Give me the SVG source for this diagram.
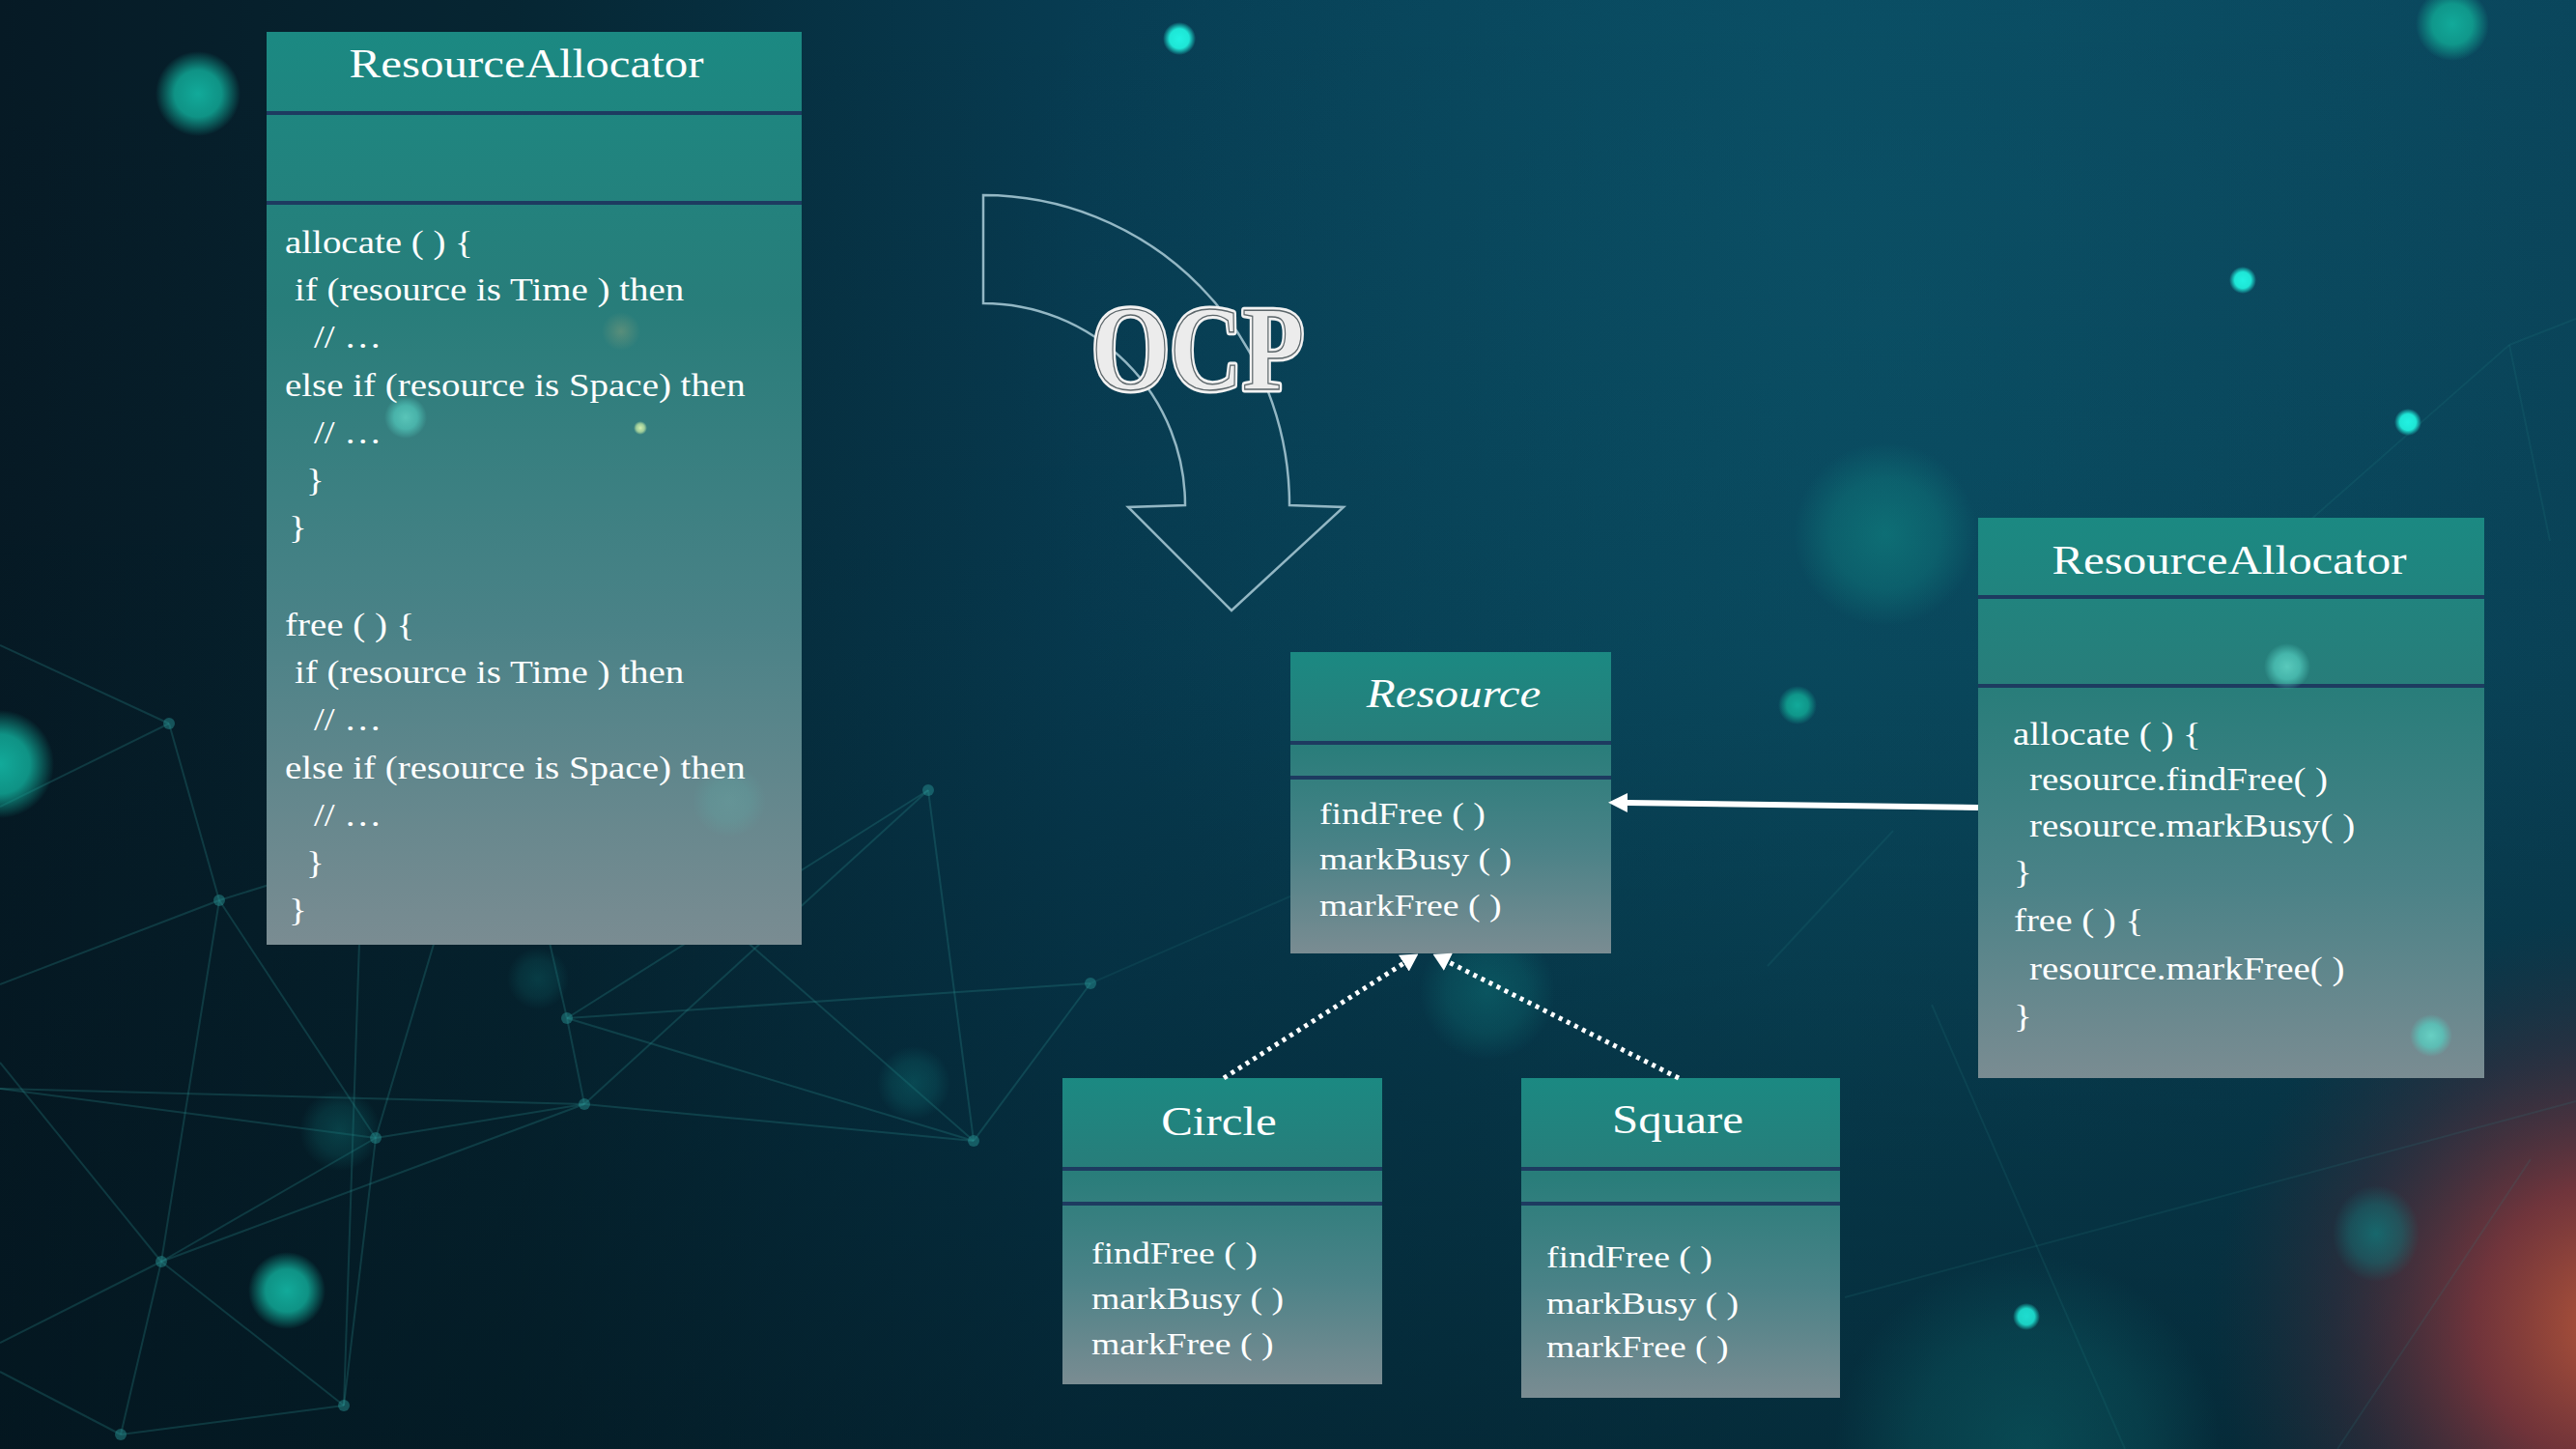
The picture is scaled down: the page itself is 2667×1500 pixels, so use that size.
<svg xmlns="http://www.w3.org/2000/svg" width="2667" height="1500" viewBox="0 0 2667 1500">
<defs>
<style>
.box{fill:url(#boxg);}
.div{stroke:#1d3b60;stroke-width:4;}
.t{font-family:"Liberation Serif","Times New Roman",serif;fill:#ffffff;}
.title{font-size:41.5px;text-anchor:middle;}
.code{font-size:33px;}
.meth{font-size:32px;}
.net{stroke:#2c8c8c;stroke-opacity:0.28;stroke-width:2;fill:none;}
.net2{stroke:#2c8c8c;stroke-opacity:0.14;stroke-width:2;fill:none;}
.node{fill:#2a9a98;fill-opacity:0.45;}
</style>
<linearGradient id="bg" x1="0" y1="0" x2="1" y2="0">
<stop offset="0" stop-color="#061a25"/>
<stop offset="0.2" stop-color="#062633"/>
<stop offset="0.42" stop-color="#073c52"/>
<stop offset="0.7" stop-color="#094a60"/>
<stop offset="1" stop-color="#0a455b"/>
</linearGradient>
<linearGradient id="shade" x1="0" y1="0" x2="0" y2="1">
<stop offset="0" stop-color="#02141c" stop-opacity="0"/>
<stop offset="0.45" stop-color="#02141c" stop-opacity="0.1"/>
<stop offset="1" stop-color="#02141c" stop-opacity="0.55"/>
</linearGradient>
<linearGradient id="boxg" x1="0" y1="0" x2="0" y2="1">
<stop offset="0" stop-color="#1b8982"/>
<stop offset="0.3" stop-color="#287d7a"/>
<stop offset="0.65" stop-color="#4a8287"/>
<stop offset="1" stop-color="#7a8c92"/>
</linearGradient>
<radialGradient id="gBright">
<stop offset="0" stop-color="#22f2e2"/>
<stop offset="0.6" stop-color="#1ee6d6"/>
<stop offset="1" stop-color="#1ee6d6" stop-opacity="0"/>
</radialGradient>
<radialGradient id="gTeal">
<stop offset="0" stop-color="#12aa9a"/>
<stop offset="0.55" stop-color="#10a090" stop-opacity="0.9"/>
<stop offset="1" stop-color="#10a090" stop-opacity="0"/>
</radialGradient>
<radialGradient id="gFaint">
<stop offset="0" stop-color="#0f7a7c" stop-opacity="0.75"/>
<stop offset="0.6" stop-color="#0f7a7c" stop-opacity="0.45"/>
<stop offset="1" stop-color="#0f7a7c" stop-opacity="0"/>
</radialGradient>
<radialGradient id="gLight">
<stop offset="0" stop-color="#66dccc"/>
<stop offset="0.55" stop-color="#55d0c2" stop-opacity="0.85"/>
<stop offset="1" stop-color="#55d0c2" stop-opacity="0"/>
</radialGradient>
<radialGradient id="gOrange">
<stop offset="0" stop-color="#8aa07a" stop-opacity="0.8"/>
<stop offset="1" stop-color="#8aa07a" stop-opacity="0"/>
</radialGradient>
<radialGradient id="gYellow">
<stop offset="0" stop-color="#d6f0b0"/>
<stop offset="0.6" stop-color="#b8e0a0" stop-opacity="0.8"/>
<stop offset="1" stop-color="#b8e0a0" stop-opacity="0"/>
</radialGradient>
<radialGradient id="gRed" cx="2710" cy="1370" r="420" gradientUnits="userSpaceOnUse">
<stop offset="0" stop-color="#c05a38" stop-opacity="0.95"/>
<stop offset="0.35" stop-color="#93363a" stop-opacity="0.75"/>
<stop offset="0.7" stop-color="#5a2a38" stop-opacity="0.35"/>
<stop offset="1" stop-color="#3a2a38" stop-opacity="0"/>
</radialGradient>
<radialGradient id="gGlow" cx="1950" cy="330" r="900" gradientUnits="userSpaceOnUse">
<stop offset="0" stop-color="#0c566c" stop-opacity="0.55"/>
<stop offset="1" stop-color="#0c566c" stop-opacity="0"/>
</radialGradient>
<marker id="solidHead" markerUnits="userSpaceOnUse" markerWidth="20" markerHeight="20" viewBox="0 0 18 18" refX="0" refY="9" orient="auto">
<path d="M0,0 L18,9 L0,18 z" fill="#ffffff"/>
</marker>
<marker id="realHead" markerUnits="userSpaceOnUse" markerWidth="18" markerHeight="20" viewBox="0 0 16 18" refX="0" refY="9" orient="auto">
<path d="M0,0 L16,9 L0,18 z" fill="#ffffff"/>
</marker>
</defs>

<g id="background">
<rect x="0" y="0" width="2667" height="1500" fill="url(#bg)"/>
<rect x="0" y="0" width="2667" height="1500" fill="url(#gGlow)"/>
<rect x="0" y="0" width="2667" height="1500" fill="url(#shade)"/>
<rect x="1900" y="900" width="767" height="600" fill="url(#gRed)"/>
<g>
<line class="net" x1="0" y1="668" x2="175" y2="749"/>
<line class="net" x1="175" y1="749" x2="227" y2="932"/>
<line class="net" x1="175" y1="749" x2="0" y2="835"/>
<line class="net" x1="227" y1="932" x2="0" y2="1019"/>
<line class="net" x1="227" y1="932" x2="375" y2="886"/>
<line class="net" x1="375" y1="886" x2="517" y2="750"/>
<line class="net" x1="517" y1="750" x2="389" y2="1178"/>
<line class="net" x1="517" y1="750" x2="587" y2="1054"/>
<line class="net" x1="517" y1="750" x2="1008" y2="1181"/>
<line class="net" x1="375" y1="886" x2="356" y2="1455"/>
<line class="net" x1="227" y1="932" x2="389" y2="1178"/>
<line class="net" x1="227" y1="932" x2="167" y2="1306"/>
<line class="net" x1="389" y1="1178" x2="605" y2="1143"/>
<line class="net" x1="389" y1="1178" x2="0" y2="1127"/>
<line class="net" x1="389" y1="1178" x2="167" y2="1306"/>
<line class="net" x1="587" y1="1054" x2="605" y2="1143"/>
<line class="net" x1="587" y1="1054" x2="961" y2="818"/>
<line class="net" x1="587" y1="1054" x2="1129" y2="1018"/>
<line class="net" x1="587" y1="1054" x2="1008" y2="1181"/>
<line class="net" x1="605" y1="1143" x2="961" y2="818"/>
<line class="net" x1="605" y1="1143" x2="1008" y2="1181"/>
<line class="net" x1="605" y1="1143" x2="167" y2="1306"/>
<line class="net" x1="605" y1="1143" x2="0" y2="1127"/>
<line class="net" x1="961" y1="818" x2="1008" y2="1181"/>
<line class="net" x1="1008" y1="1181" x2="1129" y2="1018"/>
<line class="net" x1="167" y1="1306" x2="125" y2="1485"/>
<line class="net" x1="167" y1="1306" x2="356" y2="1455"/>
<line class="net" x1="167" y1="1306" x2="0" y2="1100"/>
<line class="net" x1="167" y1="1306" x2="0" y2="1390"/>
<line class="net" x1="125" y1="1485" x2="356" y2="1455"/>
<line class="net" x1="389" y1="1178" x2="356" y2="1455"/>
<line class="net" x1="125" y1="1485" x2="0" y2="1420"/>
<line class="net2" x1="1129" y1="1018" x2="1400" y2="900"/>
<line class="net2" x1="1910" y1="1343" x2="2667" y2="1140"/>
<line class="net2" x1="2620" y1="1200" x2="2420" y2="1500"/>
<line class="net2" x1="2000" y1="1040" x2="2200" y2="1500"/>
<line class="net2" x1="2598" y1="357" x2="2390" y2="540"/>
<line class="net2" x1="2598" y1="357" x2="2667" y2="330"/>
<line class="net2" x1="2598" y1="357" x2="2640" y2="560"/>
<line class="net2" x1="1960" y1="860" x2="1830" y2="1000"/>
<circle class="node" cx="175" cy="749" r="6"/>
<circle class="node" cx="227" cy="932" r="6"/>
<circle class="node" cx="389" cy="1178" r="6"/>
<circle class="node" cx="587" cy="1054" r="6"/>
<circle class="node" cx="605" cy="1143" r="6"/>
<circle class="node" cx="961" cy="818" r="6"/>
<circle class="node" cx="1008" cy="1181" r="6"/>
<circle class="node" cx="1129" cy="1018" r="6"/>
<circle class="node" cx="167" cy="1306" r="6"/>
<circle class="node" cx="356" cy="1455" r="6"/>
<circle class="node" cx="125" cy="1485" r="6"/>
</g>
<circle cx="205" cy="97" r="44" fill="url(#gTeal)"/>
<circle cx="1221" cy="40" r="17" fill="url(#gBright)"/>
<circle cx="2539" cy="25" r="38" fill="url(#gTeal)"/>
<circle cx="2322" cy="290" r="14" fill="url(#gBright)"/>
<circle cx="2493" cy="437" r="14" fill="url(#gBright)"/>
<circle cx="1952" cy="553" r="95" fill="url(#gFaint)"/>
<circle cx="1861" cy="730" r="20" fill="url(#gTeal)"/>
<circle cx="2098" cy="1363" r="14" fill="url(#gBright)"/>
<ellipse cx="2460" cy="1277" rx="45" ry="50" fill="url(#gFaint)"/>
<circle cx="0" cy="791" r="56" fill="url(#gTeal)"/>
<circle cx="297" cy="1336" r="40" fill="url(#gTeal)"/>
<circle cx="1540" cy="1027" r="70" fill="url(#gFaint)" opacity="0.6"/>
<circle cx="946" cy="1121" r="38" fill="url(#gFaint)" opacity="0.5"/>
<circle cx="352" cy="1170" r="42" fill="url(#gFaint)" opacity="0.5"/>
<circle cx="557" cy="1013" r="32" fill="url(#gFaint)" opacity="0.4"/>
<circle cx="2100" cy="1500" r="200" fill="url(#gFaint)" opacity="0.5"/>
</g>

<g id="ocp-arrow">
<path d="M1018,202 L1018,314 A209,209 0 0 1 1227,523 L1168,525 L1275,632 L1391,525 L1335,523 A317,321 0 0 0 1018,202 Z" fill="none" stroke="#93b7c4" stroke-width="2.5"/>
<text x="1240" y="403" text-anchor="middle" textLength="220" lengthAdjust="spacingAndGlyphs" font-family="'Liberation Serif', serif" font-weight="bold" font-size="124" fill="none" stroke="#f2f2f2" stroke-width="7" stroke-linejoin="round">OCP</text>
<text x="1240" y="403" text-anchor="middle" textLength="220" lengthAdjust="spacingAndGlyphs" font-family="'Liberation Serif', serif" font-weight="bold" font-size="124" fill="#ececec" stroke="#5c666a" stroke-width="1.4">OCP</text>
</g>

<g id="node-allocator-old">
<rect class="box" x="276" y="33" width="554" height="945"/>
<line class="div" x1="276" y1="117" x2="830" y2="117"/>
<line class="div" x1="276" y1="210" x2="830" y2="210"/>
<text class="t title" transform="scale(1.18 1)" x="461.9" y="80">ResourceAllocator</text>
<g class="t code" transform="scale(1.18 1)">
<text x="250.0" y="262">allocate ( ) {</text>
<text x="258.5" y="311">if (resource is Time ) then</text>
<text x="275.4" y="360">// …</text>
<text x="250.0" y="410">else if (resource is Space) then</text>
<text x="275.4" y="459">// …</text>
<text x="268.6" y="508">}</text>
<text x="253.4" y="557">}</text>
<text x="250.0" y="658">free ( ) {</text>
<text x="258.5" y="707">if (resource is Time ) then</text>
<text x="275.4" y="756">// …</text>
<text x="250.0" y="806">else if (resource is Space) then</text>
<text x="275.4" y="855">// …</text>
<text x="268.6" y="904">}</text>
<text x="253.4" y="953">}</text>
</g>
</g>

<g id="node-resource">
<rect class="box" x="1336" y="675" width="332" height="312"/>
<line class="div" x1="1336" y1="769" x2="1668" y2="769"/>
<line class="div" x1="1336" y1="805" x2="1668" y2="805"/>
<text class="t title" transform="scale(1.18 1)" x="1275.4" y="732" font-style="italic">Resource</text>
<g class="t meth" transform="scale(1.18 1)">
<text x="1157.6" y="853">findFree ( )</text>
<text x="1157.6" y="900">markBusy ( )</text>
<text x="1157.6" y="948">markFree ( )</text>
</g>
</g>

<g id="node-allocator-new">
<rect class="box" x="2048" y="536" width="524" height="580"/>
<line class="div" x1="2048" y1="618" x2="2572" y2="618"/>
<line class="div" x1="2048" y1="710" x2="2572" y2="710"/>
<text class="t title" transform="scale(1.18 1)" x="1955.9" y="594">ResourceAllocator</text>
<g class="t code" transform="scale(1.18 1)">
<text x="1766.1" y="771">allocate ( ) {</text>
<text x="1780.5" y="818">resource.findFree( )</text>
<text x="1780.5" y="866">resource.markBusy( )</text>
<text x="1766.9" y="914">}</text>
<text x="1766.9" y="964">free ( ) {</text>
<text x="1780.5" y="1014">resource.markFree( )</text>
<text x="1766.9" y="1063">}</text>
</g>
</g>

<g id="node-circle">
<rect class="box" x="1100" y="1116" width="331" height="317"/>
<line class="div" x1="1100" y1="1210" x2="1431" y2="1210"/>
<line class="div" x1="1100" y1="1246" x2="1431" y2="1246"/>
<text class="t title" transform="scale(1.18 1)" x="1069.5" y="1175">Circle</text>
<g class="t meth" transform="scale(1.18 1)">
<text x="957.6" y="1308">findFree ( )</text>
<text x="957.6" y="1355">markBusy ( )</text>
<text x="957.6" y="1402">markFree ( )</text>
</g>
</g>

<g id="node-square">
<rect class="box" x="1575" y="1116" width="330" height="331"/>
<line class="div" x1="1575" y1="1210" x2="1905" y2="1210"/>
<line class="div" x1="1575" y1="1246" x2="1905" y2="1246"/>
<text class="t title" transform="scale(1.18 1)" x="1472.0" y="1173">Square</text>
<g class="t meth" transform="scale(1.18 1)">
<text x="1356.8" y="1312">findFree ( )</text>
<text x="1356.8" y="1360">markBusy ( )</text>
<text x="1356.8" y="1405">markFree ( )</text>
</g>
</g>

<g id="glow-overlay">
<circle cx="2368" cy="690" r="24" fill="url(#gLight)" opacity="0.8"/>
<circle cx="2517" cy="1072" r="22" fill="url(#gLight)" opacity="0.85"/>
<circle cx="643" cy="343" r="20" fill="url(#gOrange)" opacity="0.6"/>
<circle cx="420" cy="432" r="22" fill="url(#gLight)" opacity="0.75"/>
<circle cx="663" cy="443" r="7" fill="url(#gYellow)"/>
<circle cx="755" cy="829" r="38" fill="url(#gLight)" opacity="0.15"/>
</g>

<g id="connectors">
<line x1="2048" y1="836" x2="1685" y2="831" stroke="#ffffff" stroke-width="6" marker-end="url(#solidHead)"/>
<line x1="1267" y1="1116" x2="1453.4" y2="997.1" stroke="#ffffff" stroke-width="5" stroke-dasharray="4 5" marker-end="url(#realHead)"/>
<line x1="1738" y1="1116" x2="1499.4" y2="995.8" stroke="#ffffff" stroke-width="5" stroke-dasharray="4 5" marker-end="url(#realHead)"/>
</g>
</svg>
